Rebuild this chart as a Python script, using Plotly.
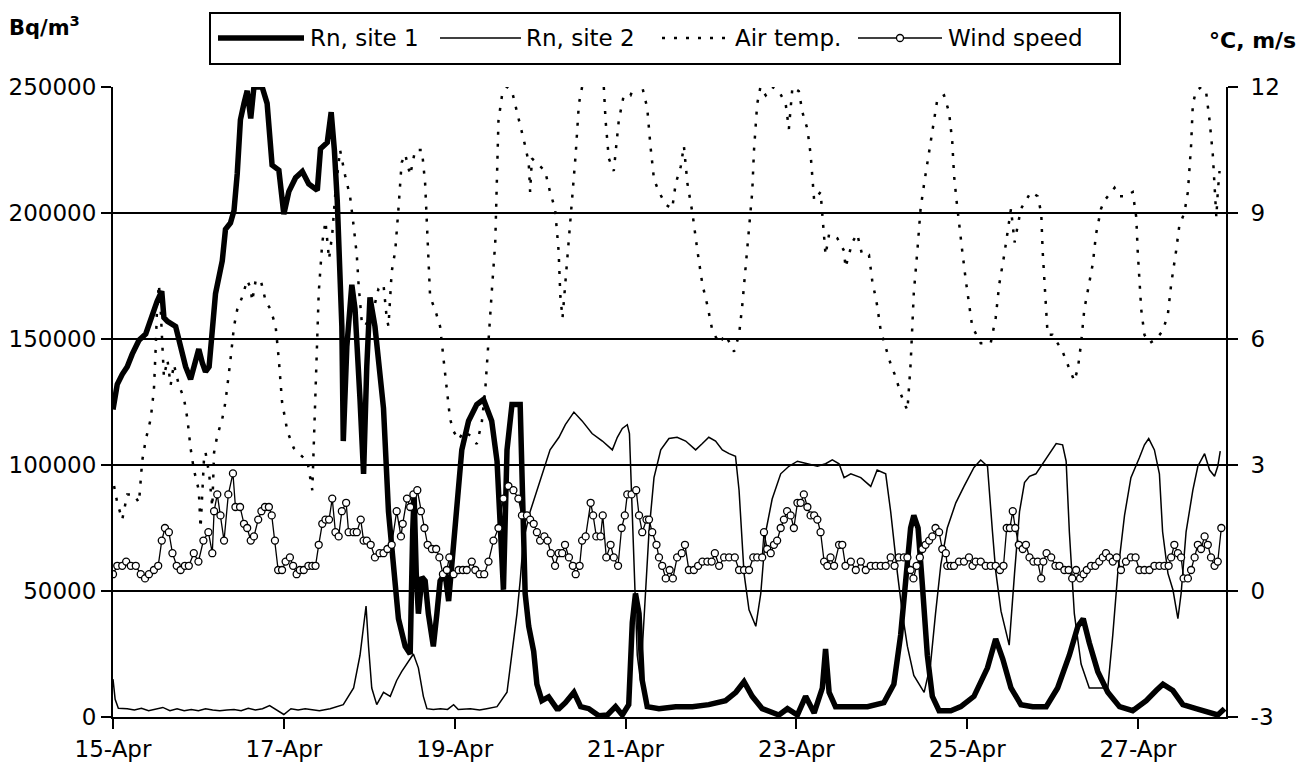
import pandas as pd
import plotly.graph_objects as go

# ---------------- data (hours after 15-Apr 00:00, value) ----------------
start = pd.Timestamp("2000-04-15 00:00")

rn_site1 = [
    (0.0, 122000), (1.2, 132000), (2.6, 136000), (4.0, 139000), (5.4, 144000), (7.3, 149500),
    (9.2, 152000), (11.0, 160000), (12.4, 165000), (13.7, 169000), (14.3, 158500), (15.3, 157000),
    (17.6, 155000), (19.0, 147000), (20.4, 139000), (21.8, 134000), (23.2, 142000), (24.1, 146000),
    (25.1, 140500), (26.0, 137000), (27.0, 139000), (27.9, 155000), (28.8, 168000), (30.7, 181000),
    (31.6, 193500), (33.0, 196000), (34.0, 201000), (34.9, 215500), (35.8, 237000), (36.8, 243500),
    (37.7, 248500), (38.7, 237500), (39.6, 250000), (41.9, 250000), (43.3, 243500), (44.7, 219000),
    (46.6, 217000), (48.0, 199500), (49.4, 208500), (51.3, 214000), (53.2, 216500), (55.0, 211500),
    (57.4, 209000), (58.3, 225500), (60.2, 228000), (61.3, 240000), (62.2, 225000), (63.0, 205000),
    (63.6, 175000), (64.3, 155000), (64.7, 109500), (65.7, 147000), (67.1, 171500), (68.0, 162000),
    (69.4, 126000), (70.4, 96500), (71.3, 139000), (72.2, 166500), (73.6, 155000), (75.1, 135500),
    (76.0, 122500), (77.4, 81500), (78.8, 57000), (80.2, 39000), (82.1, 28000), (83.5, 25000),
    (84.2, 73500), (84.6, 88000), (85.2, 57000), (85.8, 41000), (86.8, 55500), (87.7, 54000),
    (88.6, 41000), (90.0, 28000), (91.0, 41000), (91.9, 54000), (93.3, 57000), (94.3, 46000),
    (95.2, 60500), (96.6, 81500), (98.0, 106000), (99.9, 117500), (102.2, 124000), (104.1, 126000),
    (106.4, 117500), (107.9, 101500), (108.8, 73500), (109.7, 50500), (110.7, 106000), (112.1, 124000),
    (114.4, 124000), (115.2, 90000), (115.8, 49000), (116.8, 36000), (118.2, 26000), (119.1, 13000),
    (120.5, 6500), (122.4, 8000), (124.7, 3300), (125.3, 3300), (127.1, 5700), (129.5, 9800),
    (131.4, 4100), (133.7, 3300), (136.5, 500), (138.9, 800), (141.2, 4100), (143.1, 800),
    (144.9, 4900), (145.9, 37500), (146.8, 49000), (147.8, 41000), (148.7, 14500), (150.1, 4100),
    (153.4, 3300), (158.1, 4100), (162.8, 4100), (167.4, 4900), (172.1, 6500), (175.0, 9800),
    (177.3, 14000), (179.6, 8200), (182.4, 3300), (187.1, 800), (189.5, 3300), (192.3, 800),
    (194.6, 8200), (197.0, 1600), (199.3, 11500), (200.2, 27000), (201.2, 9800), (203.0, 4100),
    (207.3, 4100), (212.0, 4100), (216.6, 5700), (219.4, 13000), (221.3, 32500), (222.7, 57000),
    (224.1, 75000), (225.0, 80000), (226.2, 75000), (227.4, 52500), (228.8, 24500), (230.2, 8200),
    (232.1, 2500), (235.4, 2500), (238.2, 4100), (241.9, 8200), (245.7, 19500), (248.0, 31000),
    (250.0, 23000), (252.3, 11500), (255.1, 4900), (258.4, 4100), (262.2, 4100), (265.4, 11500),
    (268.7, 24500), (271.1, 36000), (272.6, 39000), (274.3, 29500), (276.7, 18000), (279.5, 9800),
    (282.8, 4100), (286.5, 2500), (290.3, 6500), (293.1, 10500), (295.0, 13000), (297.8, 10500),
    (300.6, 4900), (304.3, 3300), (308.1, 1600), (310.4, 800), (312.3, 3300),
]

rn_site2 = [
    (0.0, 15000), (0.6, 7000), (1.5, 3500), (4, 3300), (6, 2800), (8, 3500), (10, 2500), (12, 3000),
    (14, 3800), (16, 2500), (18, 3300), (20, 2500), (22, 3000), (24, 2500), (26, 3300), (28, 2800),
    (30, 2500), (32, 2800), (34, 3000), (36, 2500), (38, 3500), (40, 2800), (42, 3300), (44, 4500),
    (46, 2800), (48, 1000), (50, 3300), (52, 2800), (54, 3300), (56, 3000), (58, 2500), (61.0, 3300),
    (64.7, 4900), (67.6, 11500), (69.4, 24500), (70.4, 36000), (71.1, 44000), (71.8, 28000),
    (72.7, 11500), (74.1, 4900), (76.0, 9800), (77.9, 8200), (79.7, 14500), (81.1, 18000),
    (82.6, 21000), (84.4, 25000), (85.8, 19500), (87.2, 8200), (88.2, 3300), (90, 3000), (92, 3300),
    (94, 3000), (95.7, 4900), (97, 3000), (100.4, 3300), (103, 2800), (105, 3300), (107.9, 4100),
    (110.7, 9800), (112.1, 24500), (113.5, 41000), (114.4, 54000), (115.3, 70000), (117.2, 81500),
    (119.1, 90000), (120.9, 98000), (122.8, 106000), (125.3, 111000), (127.1, 116000), (129.5, 121000),
    (131.8, 117500), (134.6, 112500), (137.5, 109500), (140.3, 106000), (141.7, 111000), (143.1, 114500),
    (144.5, 116000), (145.1, 112500), (145.7, 90000), (146.4, 57000), (147.3, 24500), (148.2, 14500),
    (149.2, 41000), (150.6, 73500), (152.0, 95000), (153.9, 106000), (156.2, 110500), (158.5, 111000),
    (160.9, 109500), (163.7, 106000), (165.6, 108500), (167.4, 111000), (169.3, 109500), (171.2, 106000),
    (173.1, 104500), (174.9, 103500), (175.9, 90000), (177.3, 57000), (178.7, 42500), (180.6, 36000),
    (182.0, 49000), (183.4, 73500), (185.2, 86500), (187.6, 96500), (189.9, 99500), (192.3, 101500),
    (195.1, 100500), (197.9, 99500), (200.2, 100500), (202.1, 102000), (204.0, 100500), (205.4, 95000),
    (207.3, 96500), (210.1, 95000), (212.9, 91500), (214.7, 98000), (217.1, 96500), (218.5, 81500),
    (220.4, 57000), (221.8, 41000), (223.2, 28000), (225.0, 16500), (227.9, 9800), (229.7, 21000),
    (231.1, 41000), (232.6, 60500), (234.4, 75000), (236.8, 85000), (239.1, 91500), (241.9, 99000),
    (243.8, 102000), (245.7, 99500), (247.1, 73500), (248.0, 58000), (249.5, 42000), (251.8, 28500),
    (253.3, 57000), (254.7, 81500), (256.1, 93000), (257.5, 95500), (259.3, 96500), (261.2, 100500),
    (263.1, 104500), (265.0, 108500), (266.8, 108000), (267.8, 101500), (268.7, 73500), (270.1, 41000),
    (272.0, 21000), (274.3, 11500), (277.1, 11500), (279.5, 11500), (280.9, 32500), (282.3, 57000),
    (284.2, 80000), (286.0, 95000), (288.4, 103000), (289.8, 108000), (291.0, 110500), (292.6, 106000),
    (294.0, 96500), (294.9, 73500), (296.4, 57000), (297.8, 50500), (299.2, 39000), (300.1, 49000),
    (301.5, 73500), (303.4, 90000), (304.8, 99500), (306.7, 104500), (308.1, 98000), (309.5, 95500),
    (310.4, 99500), (311.1, 105500),
]

air_temp = [
    (0.3, 2.5), (1.2, 2.1), (2.6, 1.7), (4.0, 2.3), (5.9, 2.3), (7.3, 2.1), (8.2, 3.1), (9.2, 3.6),
    (10.6, 4.1), (11.5, 4.8), (12.0, 5.8), (12.4, 6.8), (12.9, 7.3), (13.4, 6.7), (13.9, 5.8),
    (14.3, 5.1), (15.3, 5.5), (16.2, 4.9), (17.1, 5.4), (18.5, 4.9), (19.9, 4.6), (20.9, 4.1),
    (21.8, 3.4), (22.7, 2.9), (24.1, 2.4), (24.6, 1.5), (25.6, 3.2), (26.0, 3.3), (27.0, 2.8),
    (27.9, 2.0), (28.4, 3.3), (29.3, 3.7), (30.7, 4.1), (31.6, 4.5), (33.0, 5.5), (34.0, 6.3),
    (34.9, 6.7), (36.3, 7.0), (37.7, 7.4), (38.7, 7.2), (39.1, 6.9), (40.1, 7.4), (41.5, 7.4),
    (42.9, 6.9), (44.3, 6.7), (45.7, 6.3), (46.6, 5.5), (47.5, 4.5), (49.0, 3.8), (50.8, 3.4),
    (53.2, 3.2), (54.6, 3.1), (56.0, 2.4), (56.4, 3.4), (56.9, 4.4), (57.4, 5.8), (57.8, 7.1),
    (58.8, 8.3), (59.7, 8.8), (60.7, 7.9), (61.6, 8.5), (62.5, 9.5), (63.8, 10.5), (65.2, 9.9),
    (66.6, 9.4), (67.6, 8.7), (68.5, 8.0), (69.0, 7.3), (69.9, 6.4), (70.8, 6.3), (73.2, 6.7),
    (74.6, 7.2), (76.0, 7.3), (76.9, 6.5), (77.4, 6.3), (78.3, 7.6), (79.3, 8.1), (80.2, 9.1),
    (81.1, 10.2), (82.1, 10.4), (83.5, 9.9), (84.9, 10.5), (86.8, 10.5), (87.7, 9.7), (88.2, 8.8),
    (88.6, 7.8), (89.1, 7.0), (90.5, 6.7), (91.9, 6.3), (92.9, 5.5), (93.8, 4.8), (94.7, 4.1),
    (95.7, 3.8), (97.1, 3.6), (98.5, 3.8), (100.4, 3.7), (102.2, 3.5), (103.6, 4.0), (104.6, 4.8),
    (105.5, 6.1), (106.4, 7.1), (107.4, 8.3), (107.9, 9.7), (108.3, 11.2), (109.3, 11.8), (110.7, 12.0),
    (112.1, 11.9), (113.0, 11.6), (114.4, 11.1), (115.8, 10.6), (116.8, 10.2), (117.2, 9.5),
    (117.7, 10.3), (120.0, 10.1), (121.4, 10.0), (122.8, 9.5), (124.2, 9.1), (125.2, 8.1), (125.7, 7.0),
    (126.3, 6.5), (127.1, 7.3), (128.1, 8.3), (129.0, 9.3), (130.0, 10.4), (130.9, 11.6), (131.8, 12.0),
    (133.5, 12.4), (136.0, 12.4), (137.9, 12.0), (138.4, 11.2), (139.3, 10.3), (140.7, 10.0),
    (142.1, 11.2), (143.5, 11.8), (145.4, 11.8), (146.8, 12.1), (148.7, 12.0), (150.1, 11.5),
    (151.0, 10.6), (152.0, 9.8), (153.4, 9.5), (155.3, 9.2), (157.1, 9.1), (158.1, 9.7), (159.5, 10.1),
    (160.4, 10.6), (161.4, 9.7), (162.8, 9.0), (164.2, 8.1), (165.6, 7.3), (167.0, 6.8), (168.4, 6.2),
    (170.3, 5.9), (172.1, 6.1), (174.5, 5.7), (175.9, 6.1), (176.8, 6.8), (177.7, 7.7), (178.7, 8.5),
    (179.6, 9.5), (180.1, 10.5), (181.0, 11.6), (181.9, 12.0), (183.4, 11.8), (185.2, 12.0),
    (187.1, 11.9), (189.0, 11.6), (189.9, 11.0), (190.9, 12.0), (192.7, 11.9), (193.7, 11.4),
    (195.1, 11.0), (196.0, 10.4), (196.5, 9.8), (197.0, 9.3), (198.8, 9.5), (199.3, 8.9), (199.8, 8.3),
    (200.2, 8.0), (201.2, 8.5), (203.5, 8.4), (205.4, 8.1), (205.8, 7.7), (207.7, 8.3), (209.1, 8.5),
    (210.5, 8.0), (212.4, 8.0), (213.3, 7.4), (214.7, 6.8), (215.7, 6.2), (217.1, 5.8), (218.5, 5.4),
    (219.9, 5.1), (221.3, 4.7), (222.7, 4.4), (223.2, 4.3), (224.1, 5.4), (224.6, 6.3), (225.0, 7.1),
    (226.0, 8.1), (226.9, 9.1), (227.9, 9.7), (228.8, 10.2), (229.7, 10.7), (230.7, 11.3), (231.6, 11.7),
    (233.5, 11.8), (234.9, 11.4), (235.8, 10.7), (236.3, 9.9), (237.0, 9.3), (237.7, 8.7), (238.6, 8.1),
    (239.6, 7.4), (240.5, 6.8), (241.4, 6.3), (243.8, 5.9), (246.6, 5.9), (248.0, 6.5), (249.0, 7.3),
    (250.4, 8.0), (251.4, 8.6), (252.3, 9.1), (253.3, 8.3), (254.2, 8.7), (255.1, 9.1), (256.5, 9.3),
    (257.9, 9.5), (259.8, 9.4), (260.8, 9.0), (261.2, 8.1), (261.7, 7.3), (262.2, 6.7), (262.6, 6.1),
    (264.0, 6.1), (265.4, 5.9), (266.8, 5.7), (268.2, 5.4), (269.2, 5.2), (270.1, 5.0), (271.1, 5.3),
    (272.0, 5.9), (272.9, 6.7), (273.9, 7.2), (275.3, 7.8), (276.2, 8.5), (277.6, 9.1), (278.6, 9.3),
    (280.4, 9.5), (281.4, 9.6), (282.8, 9.4), (284.6, 9.4), (286.5, 9.5), (287.5, 8.9), (287.9, 8.1),
    (288.4, 7.3), (288.9, 6.7), (289.8, 6.1), (291.2, 5.9), (293.1, 6.0), (295.0, 6.2), (296.4, 6.6),
    (297.3, 7.3), (298.7, 8.1), (299.6, 8.7), (301.0, 9.0), (302.0, 9.5), (302.9, 10.6), (303.4, 11.6),
    (304.3, 11.9), (305.7, 12.0), (307.1, 11.9), (308.1, 11.2), (309.0, 10.4), (309.5, 9.7),
    (310.0, 8.9), (310.4, 9.5), (310.9, 10.0),
]

wind_speed = [
    (0.0, 0.4), (1.2, 0.6), (2.6, 0.6), (3.7, 0.7), (5.0, 0.6), (6.4, 0.6), (7.8, 0.4), (9.0, 0.3),
    (10.1, 0.4), (11.5, 0.5), (12.7, 0.6), (13.7, 1.2), (14.6, 1.5), (15.7, 1.4), (16.7, 0.9),
    (17.9, 0.6), (19.0, 0.5), (20.2, 0.6), (21.3, 0.6), (22.7, 0.9), (24.0, 0.7), (25.4, 1.2),
    (26.8, 1.4), (27.9, 0.9), (28.4, 1.9), (29.3, 2.3), (30.2, 1.8), (31.2, 1.2), (32.4, 2.3),
    (33.7, 2.8), (34.4, 2.0), (35.7, 2.0), (36.8, 1.6), (37.7, 1.5), (38.7, 1.2), (39.6, 1.3),
    (40.8, 1.7), (41.7, 1.9), (42.7, 2.0), (43.8, 2.0), (44.6, 1.8), (45.5, 1.2), (46.4, 0.5),
    (47.5, 0.5), (48.5, 0.7), (49.7, 0.8), (50.6, 0.6), (51.6, 0.4), (52.5, 0.5), (53.6, 0.5),
    (54.9, 0.6), (56.0, 0.6), (56.9, 0.6), (57.8, 1.1), (58.8, 1.6), (59.7, 1.7), (60.7, 1.7),
    (61.6, 2.2), (62.5, 1.4), (63.4, 1.3), (64.3, 1.9), (65.5, 2.1), (66.2, 1.4), (67.6, 1.4),
    (68.5, 1.4), (69.6, 1.7), (70.4, 1.2), (71.3, 1.2), (72.4, 1.1), (73.6, 0.8), (74.9, 0.9),
    (76.0, 0.9), (77.1, 1.0), (78.3, 1.1), (79.7, 1.9), (80.9, 1.3), (81.4, 1.6), (82.6, 2.2),
    (83.5, 2.0), (84.4, 2.3), (85.5, 2.4), (86.5, 1.9), (87.5, 1.5), (88.4, 1.1), (89.6, 1.0),
    (90.8, 1.0), (91.7, 0.8), (92.7, 0.4), (93.8, 0.5), (94.5, 0.8), (95.7, 0.4), (97.1, 0.5),
    (98.3, 0.5), (99.4, 0.5), (100.8, 0.7), (101.8, 0.5), (103.0, 0.4), (104.3, 0.4), (105.5, 0.7),
    (106.9, 1.2), (108.3, 1.5), (109.7, 2.2), (111.1, 2.5), (112.5, 2.4), (113.9, 2.2), (114.9, 1.8),
    (116.3, 1.8), (117.2, 1.7), (118.2, 1.6), (119.1, 1.4), (120.0, 1.2), (121.2, 1.3), (122.1, 1.2),
    (123.0, 0.9), (124.2, 0.6), (125.2, 0.9), (126.2, 0.9), (127.0, 1.1), (128.1, 0.8), (129.2, 0.6),
    (130.0, 0.4), (131.1, 0.6), (131.8, 1.2), (132.8, 1.3), (134.2, 2.1), (134.9, 1.8), (135.8, 1.3),
    (137.0, 1.3), (137.6, 1.8), (138.6, 0.8), (139.8, 1.1), (140.7, 0.8), (141.9, 0.6), (142.9, 1.5),
    (143.8, 1.8), (144.5, 2.3), (145.7, 2.3), (147.0, 2.4), (147.8, 1.8), (148.7, 1.4), (149.9, 1.7),
    (150.6, 1.7), (151.5, 1.4), (152.7, 1.1), (153.4, 0.8), (154.3, 0.6), (155.3, 0.3), (156.4, 0.5),
    (157.3, 0.3), (158.5, 0.8), (159.8, 0.9), (160.7, 1.1), (161.8, 0.5), (163.2, 0.5), (164.4, 0.6),
    (165.6, 0.7), (167.0, 0.7), (168.2, 0.7), (169.1, 0.9), (170.3, 0.6), (171.7, 0.8), (173.1, 0.8),
    (174.7, 0.8), (175.9, 0.5), (177.3, 0.5), (178.7, 0.5), (179.9, 0.8), (181.0, 0.8), (182.4, 0.8),
    (182.9, 1.4), (183.8, 1.0), (184.8, 0.9), (185.7, 1.1), (186.6, 1.2), (187.6, 1.5), (188.5, 1.7),
    (189.4, 1.9), (190.4, 1.8), (191.3, 1.5), (192.3, 2.1), (193.2, 2.1), (194.1, 2.3), (195.1, 2.0),
    (196.0, 1.8), (197.0, 1.8), (197.9, 1.7), (198.8, 1.4), (199.8, 0.7), (200.7, 0.6), (201.6, 0.8),
    (202.6, 0.6), (204.0, 1.1), (204.9, 1.1), (205.8, 0.6), (207.3, 0.7), (208.7, 0.5), (210.1, 0.7),
    (211.5, 0.5), (212.9, 0.6), (214.3, 0.6), (215.7, 0.6), (217.1, 0.6), (218.5, 0.8), (219.6, 0.6),
    (220.8, 0.8), (222.2, 0.8), (223.2, 0.8), (224.1, 0.5), (224.9, 0.3), (225.8, 0.6), (226.7, 0.8),
    (227.4, 1.0), (228.3, 1.1), (229.3, 1.2), (230.2, 1.3), (231.1, 1.5), (232.1, 1.4), (233.0, 1.0),
    (234.0, 0.9), (234.4, 0.6), (235.4, 0.6), (236.3, 0.6), (237.7, 0.7), (239.1, 0.7), (240.5, 0.8),
    (241.5, 0.6), (242.4, 0.7), (243.8, 0.7), (245.2, 0.6), (246.6, 0.6), (248.0, 0.6), (249.2, 0.5),
    (250.2, 0.6), (251.1, 1.5), (252.0, 1.5), (252.8, 1.9), (253.5, 1.5), (254.5, 1.1), (255.6, 1.0),
    (256.5, 1.1), (257.5, 0.8), (258.6, 0.7), (259.8, 0.7), (260.8, 0.3), (261.4, 0.7), (262.3, 0.9),
    (263.6, 0.8), (264.8, 0.6), (265.9, 0.6), (267.3, 0.5), (268.5, 0.5), (269.5, 0.3), (270.6, 0.5),
    (271.7, 0.3), (272.7, 0.4), (273.6, 0.5), (274.8, 0.6), (276.0, 0.6), (277.1, 0.7), (278.1, 0.8),
    (279.0, 0.9), (280.0, 0.8), (280.9, 0.7), (282.0, 0.8), (283.2, 0.5), (284.6, 0.7), (286.0, 0.8),
    (287.3, 0.8), (288.4, 0.5), (289.8, 0.5), (291.2, 0.5), (292.6, 0.6), (294.0, 0.6), (295.4, 0.6),
    (296.6, 0.6), (297.3, 0.8), (298.2, 1.1), (299.2, 0.9), (300.1, 0.8), (300.8, 0.3), (302.0, 0.3),
    (302.9, 0.5), (303.9, 0.8), (304.8, 1.1), (305.7, 1.0), (306.7, 1.3), (307.6, 1.1), (308.5, 0.8),
    (309.5, 0.6), (310.4, 0.7), (311.4, 1.5),
]

series_names = ["Rn, site 1", "Rn, site 2", "Air temp.", "Wind speed"]
left_ticks = [0, 50000, 100000, 150000, 200000, 250000]
right_ticks = [-3, 0, 3, 6, 9, 12]
right_tick_text = ["-3", "0", "3", "6", "9", "12"]
left_title = "<b>Bq/m<sup>3</sup></b>"
right_title = "<b>°C, m/s</b>"


def times(points):
    return [start + pd.Timedelta(hours=h) for h, _ in points]


def values(points):
    return [v for _, v in points]


# ---------------- figure ----------------
# page has an 8px body margin, so the figure is drawn at (8, 8)
OFF = 8
W, H = 1306 - 2 * OFF, 776 - 2 * OFF
L, R, T, B = 113, 1226, 87, 717          # plot area in page pixels
FONT = "DejaVu Sans"


def px(x):
    return (x - L) / (R - L)


def py(y):
    return (B - y) / (B - T)


fig = go.Figure()
fig.add_trace(go.Scatter(x=times(rn_site1), y=values(rn_site1), name=series_names[0], mode="lines",
                         line=dict(color="black", width=5.5)))
fig.add_trace(go.Scatter(x=times(rn_site2), y=values(rn_site2), name=series_names[1], mode="lines",
                         line=dict(color="black", width=1.5)))
fig.add_trace(go.Scatter(x=times(air_temp), y=values(air_temp), name=series_names[2], mode="lines",
                         line=dict(color="black", width=2.5, dash="3px,9px"), yaxis="y2"))
fig.add_trace(go.Scatter(x=times(wind_speed), y=values(wind_speed), name=series_names[3],
                         mode="lines+markers", line=dict(color="black", width=1.3),
                         marker=dict(symbol="circle", size=7, color="white",
                                     line=dict(color="black", width=1.3)),
                         yaxis="y2"))

x_end = start + pd.Timedelta(days=(R - L) / 85.42)

fig.update_layout(
    width=W, height=H,
    margin=dict(l=L - OFF, r=W - (R - OFF), t=T - OFF, b=H - (B - OFF), pad=0, autoexpand=False),
    paper_bgcolor="white", plot_bgcolor="white",
    showlegend=False,
    font=dict(family=FONT, size=23, color="black"),
    xaxis=dict(type="date", range=[start, x_end], tick0=start, dtick=2 * 86400000,
               tickformat="%d-%b", ticks="outside", ticklen=10, tickwidth=2, tickcolor="black",
               showline=True, linecolor="black", linewidth=2, showgrid=False, zeroline=False,
               automargin=False),
    yaxis=dict(range=[0, 250000], tickvals=left_ticks, tickformat="d", ticks="outside",
               ticklen=10, tickwidth=2, tickcolor="black", showline=True, linecolor="black",
               linewidth=2, showgrid=True, gridcolor="black", gridwidth=2, zeroline=False,
               automargin=False),
    yaxis2=dict(range=[-3, 12], tickvals=right_ticks, ticktext=right_tick_text, overlaying="y",
                side="right", ticks="outside", ticklen=10, tickwidth=2, tickcolor="black",
                showline=True, linecolor="black", linewidth=2, showgrid=False, zeroline=False,
                ticklabelstandoff=8, automargin=False),
)

# axis titles
fig.add_annotation(text=left_title, xref="paper", yref="paper", x=px(7), y=py(26),
                   xanchor="left", yanchor="middle", showarrow=False,
                   font=dict(family=FONT, size=21, color="black"))
fig.add_annotation(text=right_title, xref="paper", yref="paper", x=px(1298), y=py(40),
                   xanchor="right", yanchor="middle", showarrow=False,
                   font=dict(family=FONT, size=22, color="black"))

# legend box drawn manually to match the long line samples
fig.add_shape(type="rect", xref="paper", yref="paper", x0=px(210), x1=px(1120), y0=py(64), y1=py(13),
              line=dict(color="black", width=2), fillcolor="white", layer="above")
ly = py(38)
legend_items = [
    (218, 304, dict(color="black", width=5.5), 308),
    (440, 521, dict(color="black", width=1.5), 524),
    (662, 729, dict(color="black", width=2.5, dash="3px,9px"), 733),
    (858, 942, dict(color="black", width=1.3), 946),
]
for (x0, x1, ln, tx), name in zip(legend_items, series_names):
    fig.add_shape(type="line", xref="paper", yref="paper", x0=px(x0), x1=px(x1), y0=ly, y1=ly,
                  line=ln, layer="above")
    fig.add_annotation(text=name, xref="paper", yref="paper", x=px(tx), y=ly, xanchor="left",
                       yanchor="middle", showarrow=False, font=dict(family=FONT, size=23, color="black"))
fig.add_shape(type="circle", xref="paper", yref="paper", xsizemode="pixel", ysizemode="pixel",
              xanchor=px(900), yanchor=ly, x0=-3.5, x1=3.5, y0=-3.5, y1=3.5,
              line=dict(color="black", width=1.3), fillcolor="white", layer="above")

fig.write_html("out.html")
